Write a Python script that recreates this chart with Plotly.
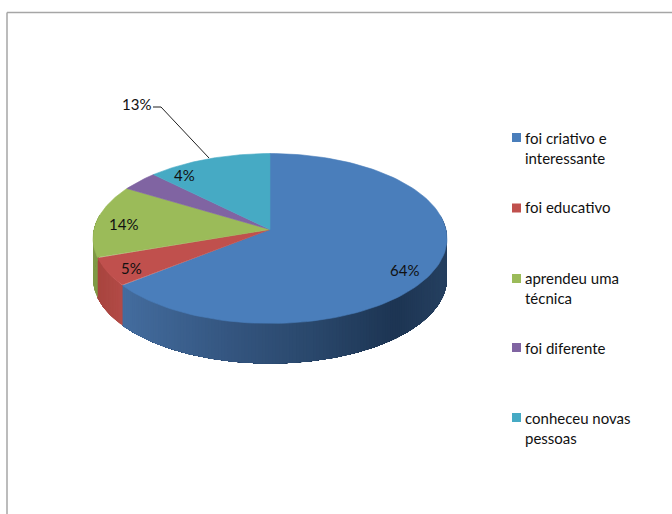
import numpy as np
import plotly.graph_objects as go

# ---- data ----
categories = ["foi criativo e<br>interessante", "foi educativo", "aprendeu uma<br>técnica",
              "foi diferente", "conheceu novas<br>pessoas"]
values = [64.3, 5.4, 13.9, 3.8, 12.6]
colors = ["#4a7ebb", "#c0504d", "#9bbb59", "#8064a2", "#46aac4"]
side_colors = [
    [(0.0, "#446d9f"), (0.35, "#34557f"), (0.6, "#2a486c"), (0.86, "#1d3553"), (1.0, "#253f5f")],
    [(0.0, "#a8453f"), (1.0, "#b34b47")],
    [(0.0, "#7f9a46"), (1.0, "#8aa64e")],
    [(0.0, "#6a5388"), (1.0, "#6a5388")],
    [(0.0, "#3a8ca2"), (1.0, "#3a8ca2")],
]
label_pos = [(404, 270), (131, 268), (123, 224), (184, 175), (136, 104)]
legend_y = [137.5, 208, 278.5, 347.5, 417.5]
legend_text_top = [126.5, 196, 266.5, 337, 407]
FONT = "Lato, Carlito, Calibri, sans-serif"
TEXT = "#111111"

# ---- perspective projection of a flat disc ----
CX, CY, A, B, P, DEPTH = 270, 229.5, 176, 84, 0.106, 40

def project(theta, drop=0.0):
    X, Y = np.sin(theta), np.cos(theta)
    d = 1 + P * Y
    return CX + A * X / d, CY - B * Y / d + drop

def mix(stops, t):
    pos = [s[0] for s in stops]
    rgb = [[int(s[1][i:i + 2], 16) for s in stops] for i in (1, 3, 5)]
    return "rgb(%d,%d,%d)" % tuple(np.interp(t, pos, c) for c in rgb)

fig = go.Figure()
total = sum(values)
edges = np.cumsum([0] + values) / total * 2 * np.pi

# side wall, painted first; every band runs to the slice end so no seams show
VIS_START, VIS_END = np.radians(80), np.radians(280)
for i in range(len(values)):
    a0, a1 = max(edges[i], VIS_START), min(edges[i + 1], VIS_END)
    if a1 <= a0:
        continue
    xa, _ = project(a0)
    xb, _ = project(a1)
    lo, hi = min(xa, xb), max(xa, xb)
    n = max(2, int(np.degrees(a1 - a0)))
    ts = np.linspace(a0, a1, n + 1)
    for j in range(n):
        t = np.linspace(ts[j], a1, max(4, 2 * (n - j)))
        xt, yt = project(t)
        xd, yd = project(t[::-1], DEPTH)
        xm = project((ts[j] + ts[j + 1]) / 2)[0]
        c = mix(side_colors[i], (xm - lo) / (hi - lo))
        fig.add_trace(go.Scatter(x=np.r_[xt, xd, xt[0]], y=np.r_[yt, yd, yt[0]], mode="lines",
                                 fill="toself", fillcolor=c, line=dict(width=0),
                                 hoverinfo="skip", showlegend=False))

# top face
for i in range(len(values)):
    t = np.linspace(edges[i], edges[i + 1], 120)
    xr, yr = project(t)
    fig.add_trace(go.Scatter(x=np.r_[CX, xr, CX], y=np.r_[CY, yr, CY], mode="lines",
                             fill="toself", fillcolor=colors[i],
                             line=dict(color=colors[i], width=0.6),
                             hoverinfo="skip", showlegend=False))

# leader line of the 13% label
fig.add_trace(go.Scatter(x=[153, 161, 209], y=[107, 107, 158], mode="lines",
                         line=dict(color="#202020", width=1), hoverinfo="skip", showlegend=False))

# legend keys
fig.add_trace(go.Scatter(x=[516.5] * len(values), y=legend_y, mode="markers",
                         marker=dict(symbol="square", size=9, color=colors, line=dict(width=0)),
                         hoverinfo="skip", showlegend=False))

ann = []
for v, (x, y) in zip(values, label_pos):
    ann.append(dict(x=x, y=y, text=f"{round(v)}%", showarrow=False, xanchor="center", yanchor="middle",
                    font=dict(family=FONT, size=15, color=TEXT)))
for c, y in zip(categories, legend_text_top):
    ann.append(dict(x=523, y=y, text=c, showarrow=False, xanchor="left", yanchor="top",
                    align="left", font=dict(family=FONT, size=15, color=TEXT)))

fig.update_layout(
    width=672, height=514, margin=dict(l=0, r=0, t=0, b=0),
    paper_bgcolor="white", plot_bgcolor="white", showlegend=False,
    xaxis=dict(range=[0, 672], visible=False, fixedrange=True),
    yaxis=dict(range=[514, 0], visible=False, fixedrange=True),
    annotations=ann,
    shapes=[
        dict(type="line", x0=7, x1=7, y0=12.5, y1=514, line=dict(color="#a6a6a6", width=1.5)),
        dict(type="line", x0=7, x1=672, y0=12.5, y1=12.5, line=dict(color="#a6a6a6", width=1.5)),
    ],
)
fig.write_html("out.html", config=dict(displayModeBar=False),
               post_script="document.body.style.margin='0';document.body.style.overflow='hidden';")
